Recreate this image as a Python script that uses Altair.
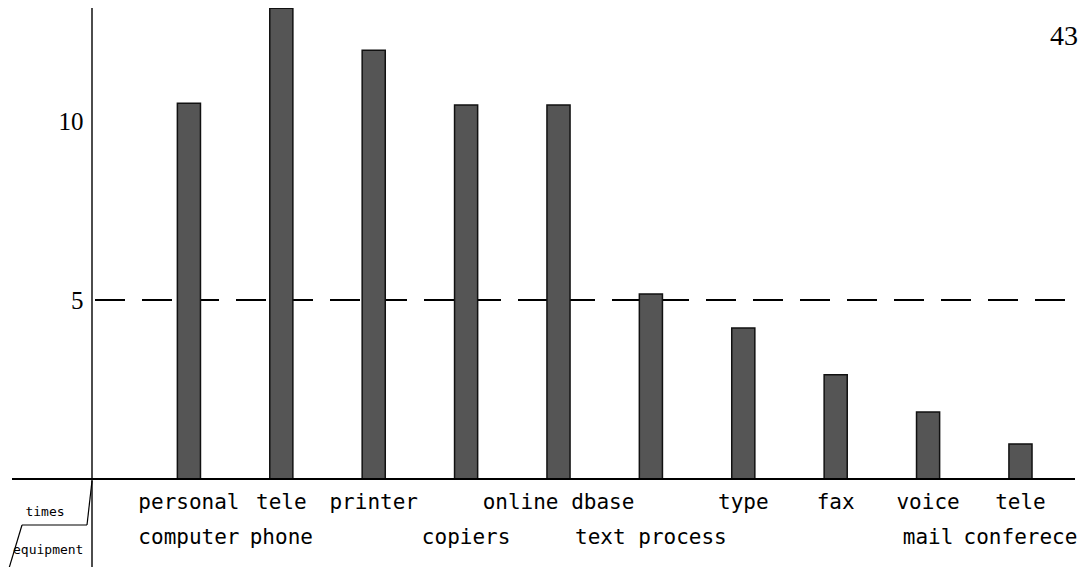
import altair as alt
import pandas as pd

# ---- data ----
equipment = ["personal computer", "telephone", "printer", "copiers", "online dbase",
             "text process", "type", "fax", "voice mail", "teleconference"]
times = [10.5, 13.15, 11.98, 10.45, 10.45, 5.17, 4.22, 2.91, 1.87, 0.98]
label_top = ["personal", "tele", "printer", "", "online dbase", "", "type", "fax", "voice", "tele"]
label_bottom = ["computer", "phone", "", "copiers", "", "text process", "", "", "mail", "conferece"]
y_ticks = [5, 10]
reference_level = 5

df = pd.DataFrame({
    "equipment": equipment,
    "times": times,
    "top": label_top,
    "bottom": label_bottom,
})

W, H = 984, 471
LABEL_FONT = "DejaVu Sans Mono"

x_scale = alt.Scale(domain=equipment, paddingInner=0.75, paddingOuter=0.7, align=0.66)
y_scale = alt.Scale(domain=[0, 13.16], nice=False, zero=True)

base = alt.Chart(df)

x_enc = alt.X("equipment:N", sort=None, scale=x_scale, axis=None)

dashed = base.mark_rule(color="black", strokeWidth=1.3, strokeDash=[30, 17]).encode(
    y=alt.datum(reference_level, scale=y_scale),
    x=alt.value(3),
    x2=alt.value(983),
)

bars = base.mark_bar(color="#555555", stroke="#111111", strokeWidth=1.5).encode(
    x=x_enc,
    y=alt.Y("times:Q", scale=y_scale,
            axis=alt.Axis(values=y_ticks, title=None, domain=False, ticks=False, grid=False,
                          labelFont="Liberation Serif", labelFontSize=25, labelColor="black",
                          labelPadding=9)),
)

baseline = base.mark_rule(color="black", strokeWidth=1.8).encode(
    y=alt.datum(0, scale=y_scale),
    x=alt.value(-80),
    x2=alt.value(983),
)

deco = alt.Chart(pd.DataFrame({"k": [0]}))
y_axis_line = deco.mark_rule(color="black", strokeWidth=1.4).encode(
    x=alt.value(0), y=alt.value(0), y2=alt.value(567))
slant1 = deco.mark_rule(color="black", strokeWidth=1.2).encode(
    x=alt.value(0), y=alt.value(473), x2=alt.value(-5), y2=alt.value(517))
horiz = deco.mark_rule(color="black", strokeWidth=1.2).encode(
    x=alt.value(-70), y=alt.value(517), x2=alt.value(-5), y2=alt.value(517))
slant2 = deco.mark_rule(color="black", strokeWidth=1.2).encode(
    x=alt.value(-70), y=alt.value(517), x2=alt.value(-85), y2=alt.value(567))

times_txt = deco.mark_text(font=LABEL_FONT, fontSize=13, color="black",
                           align="center", baseline="middle").encode(
    x=alt.value(-47), y=alt.value(504), text=alt.value("times"))
equip_txt = deco.mark_text(font=LABEL_FONT, fontSize=13, color="black",
                           align="left", baseline="middle").encode(
    x=alt.value(-79), y=alt.value(542), text=alt.value("equipment"))
page_txt = deco.mark_text(font="Liberation Serif", fontSize=28, color="black",
                          align="left", baseline="middle").encode(
    x=alt.value(958), y=alt.value(29), text=alt.value("43"))

top_labels = base.mark_text(font=LABEL_FONT, fontSize=21, color="black",
                            baseline="middle").encode(
    x=x_enc, y=alt.value(495), text="top:N")
bottom_labels = base.mark_text(font=LABEL_FONT, fontSize=21, color="black",
                               baseline="middle").encode(
    x=x_enc, y=alt.value(530), text="bottom:N")

chart = alt.layer(
    dashed, bars, baseline, y_axis_line, slant1, horiz, slant2,
    times_txt, equip_txt, page_txt, top_labels, bottom_labels,
).properties(
    width=W, height=H,
    autosize=alt.AutoSizeParams(type="none"),
    padding={"left": 84, "top": 0, "right": 5, "bottom": 88},
    background="white",
).configure_view(stroke=None)

chart.save("out.html", embed_options={"renderer": "svg", "actions": False})
